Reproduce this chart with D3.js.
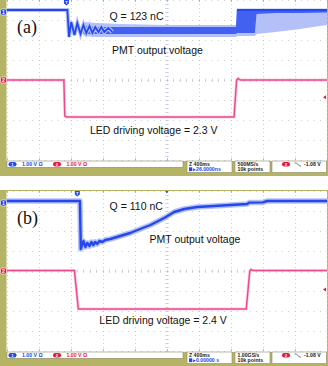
<!DOCTYPE html>
<html>
<head>
<meta charset="utf-8">
<script src="https://cdn.jsdelivr.net/npm/d3@7"></script>
<style>
body { margin: 0; background: #fff; }
svg { display: block; }
.lbl { font-family: "Liberation Sans", Arial, sans-serif; font-size: 10.5px; fill: #111; }
.tag { font-family: "Liberation Serif", "Times New Roman", serif; font-size: 18px; fill: #111; }
.st { font-family: "Liberation Sans", Arial, sans-serif; font-size: 5.2px; font-weight: bold; }
</style>
</head>
<body>
<div id="chart"></div>
<script>
/* SET UP */

const w = 328;
const h = 366;
const plotL = 6.5;
const plotR = 327;
const plotH = 160;
const panelTop = [0, 191];
const frameTop = [0, 190];
const frameBottom = [176, 366];

const olive = "#b5b464";
const blue = "#2447ee";
const blueMid = "#3d5cf0";
const blueLight = "#b4c1f9";
const pink = "#ee4a8e";
const red = "#e8173f";

/* DATA (time and voltage in screen divisions, 0 = screen centre) */

const panelTags = ["(a)", "(b)"];
const chargeLabels = ["Q = 123 nC", "Q = 110 nC"];
const pmtLabel = "PMT output voltage";
const ledLabels = ["LED driving voltage = 2.3 V", "LED driving voltage = 2.4 V"];
const chScale = "1.00 V \u03A9";
const zoomLabel = "Z 400ms";
const delayLabels = ["26.0000ns", "0.00000 s"];
const rateLabels = ["500MS/s", "1.00GS/s"];
const recordLabel = "10k points";
const trigLabel = "-1.08 V";

const trigPos = [-3.13, -2.79];
const trigLevel = [-0.86, -0.92];
const gndLevel = [3.4, 3.4];

// (a) PMT: flat level, falling edge and ringing
const pmtA_edge = [[-5, 3.5], [-3.1, 3.5], [-3.05, 2.15], [-2.98, 2.9], [-2.88, 2.25], [-2.79, 2.85],
  [-2.69, 2.3], [-2.6, 2.75], [-2.51, 2.35], [-2.41, 2.7], [-2.32, 2.35], [-2.23, 2.65],
  [-2.13, 2.4], [-2.04, 2.65], [-1.95, 2.4], [-1.82, 2.6], [-1.7, 2.4]];
// (a) PMT: persistence band (outer = faint, inner = dense)
const pmtA_bandT = [-2.6, -2.2, -1.45, -0.08, 1.04, 2.16, 2.19, 2.75, 2.8, 3.4, 4.15, 5.0];
const pmtA_outerHi = [2.9, 2.85, 2.8, 2.75, 2.75, 2.75, 3.58, 3.58, 3.58, 3.58, 3.58, 3.58];
const pmtA_outerLo = [2.2, 2.15, 2.15, 2.15, 2.15, 2.15, 2.2, 2.2, 2.3, 2.4, 2.55, 2.75];
const pmtA_innerHi = [2.7, 2.65, 2.65, 2.65, 2.65, 2.65, 3.55, 3.55, 3.55, 3.55, 3.55, 3.55];
const pmtA_innerLo = [2.3, 2.3, 2.3, 2.3, 2.3, 2.3, 2.35, 2.35, 3.3, 3.35, 3.35, 3.38];
const pmtA_tail = [[2.19, 3.5], [5, 3.5]];

// (b) PMT trace
const pmtB = [[-5, 3.5], [-2.71, 3.5], [-2.68, 1.1], [-2.6, 1.5], [-2.54, 1.2], [-2.48, 1.4],
  [-2.41, 1.25], [-2.35, 1.45], [-2.29, 1.3], [-2.23, 1.45], [-2.17, 1.35], [-2.1, 1.5],
  [-2.01, 1.45], [-1.92, 1.55], [-1.76, 1.6], [-1.45, 1.75], [-1.14, 1.9], [-0.83, 2.1],
  [-0.51, 2.3], [-0.08, 2.65], [0.23, 2.95], [0.55, 3.1], [0.95, 3.2], [1.48, 3.25],
  [1.98, 3.3], [2.51, 3.35], [2.57, 3.42], [3.0, 3.43], [3.13, 3.5], [5, 3.5]];

// LED driving pulses
const ledA = [[-5, 0], [-3.21, 0], [-3.18, -1.8], [-3.13, -1.85], [2.1, -1.85], [2.18, 0],
  [2.23, 0.08], [2.29, 0], [5, 0]];
const ledB = [[-5, 0.02], [-2.88, 0.02], [-2.76, -1.9], [2.48, -1.9], [2.59, 0],
  [2.63, 0.08], [2.69, 0.02], [5, 0.02]];

const pmtEdges = [pmtA_edge, pmtB];
const ledTraces = [ledA, ledB];

/* LAYOUT OF TEXT */
const tagXY = [[17, 32.5], [17, 224]];
const chargeXY = [[109.5, 19.5], [109.6, 209.5]];
const pmtXY = [[112, 54], [149.5, 243.3]];
const ledXY = [[90, 134.3], [99.3, 324.3]];

/* DRAW */

const svg = d3.select("#chart")
  .append("svg")
  .attr("width", w)
  .attr("height", h);

svg.append("rect").attr("width", w).attr("height", h).attr("fill", "#fff");

function drawPanel(i) {
  const top = panelTop[i];
  const x = d3.scaleLinear().domain([-5, 5]).range([plotL, plotR]);
  const y = d3.scaleLinear().domain([-4, 4]).range([top + plotH, top]);
  const g = svg.append("g");
  const px = v => Math.round(x(v)) + 0.5;
  const py = v => Math.round(y(v)) + 0.5;

  // olive frame and screen
  g.append("rect")
    .attr("x", 0).attr("y", frameTop[i])
    .attr("width", w).attr("height", frameBottom[i] - frameTop[i])
    .attr("fill", olive);
  g.append("rect")
    .attr("x", plotL).attr("y", top)
    .attr("width", plotR - plotL).attr("height", plotH + 1)
    .attr("fill", "#fff");

  // dotted graticule
  g.append("g").selectAll("line")
    .data(d3.range(-5, 6))
    .join("line")
    .attr("x1", px).attr("x2", px)
    .attr("y1", top).attr("y2", top + plotH)
    .attr("stroke", "#c4c4c4").attr("stroke-width", 0.9)
    .attr("stroke-dasharray", "0.9,3.1");
  g.append("g").selectAll("line")
    .data(d3.range(-4, 5))
    .join("line")
    .attr("x1", plotL).attr("x2", plotR)
    .attr("y1", py).attr("y2", py)
    .attr("stroke", "#c4c4c4").attr("stroke-width", 0.9)
    .attr("stroke-dasharray", "0.9,5.5");

  // centre axis ticks
  g.append("g").selectAll("line")
    .data(d3.range(-25, 26).map(d => d / 5))
    .join("line")
    .attr("x1", px).attr("x2", px)
    .attr("y1", y(0) - 1.5).attr("y2", y(0) + 2)
    .attr("stroke", "#c0c6dc").attr("stroke-width", 0.7);
  g.append("g").selectAll("line")
    .data(d3.range(-20, 21).map(d => d / 5))
    .join("line")
    .attr("x1", x(0) - 1.5).attr("x2", x(0) + 2)
    .attr("y1", py).attr("y2", py)
    .attr("stroke", "#c0c6dc").attr("stroke-width", 0.7);

  // border ticks
  g.append("g").selectAll("line")
    .data(d3.range(-5, 6))
    .join("line")
    .attr("x1", px).attr("x2", px)
    .attr("y1", top).attr("y2", top + 2)
    .attr("stroke", "#aaa").attr("stroke-width", 0.8);
  g.append("g").selectAll("line")
    .data(d3.range(-5, 6))
    .join("line")
    .attr("x1", px).attr("x2", px)
    .attr("y1", top + plotH - 2).attr("y2", top + plotH)
    .attr("stroke", "#aaa").attr("stroke-width", 0.8);

  const line = d3.line().x(d => x(d[0])).y(d => y(d[1]));

  // LED driving voltage (channel 2)
  g.append("path")
    .attr("d", line(ledTraces[i]))
    .attr("fill", "none")
    .attr("stroke", "#f7a9c9").attr("stroke-width", 3)
    .attr("stroke-opacity", 0.5);
  g.append("path")
    .attr("d", line(ledTraces[i]))
    .attr("fill", "none")
    .attr("stroke", pink).attr("stroke-width", 1.5);

  // PMT output voltage (channel 1)
  if (i === 0) {
    const idx = d3.range(pmtA_bandT.length);
    const outer = d3.area()
      .x(k => x(pmtA_bandT[k]))
      .y0(k => y(pmtA_outerLo[k]))
      .y1(k => y(pmtA_outerHi[k]));
    const inner = d3.area()
      .x(k => x(pmtA_bandT[k]))
      .y0(k => y(pmtA_innerLo[k]))
      .y1(k => y(pmtA_innerHi[k]));
    g.append("path").attr("d", outer(idx)).attr("fill", blueLight);
    g.append("path").attr("d", inner(idx)).attr("fill", blueMid).attr("fill-opacity", 0.95);
    g.append("path")
      .attr("d", line(pmtA_edge))
      .attr("fill", "none")
      .attr("stroke", blueLight).attr("stroke-width", 4);
    g.append("path")
      .attr("d", line(pmtA_edge))
      .attr("fill", "none")
      .attr("stroke", blue).attr("stroke-width", 1.8);
    g.append("path")
      .attr("d", line(pmtA_tail))
      .attr("fill", "none")
      .attr("stroke", blue).attr("stroke-width", 2.2);
  } else {
    g.append("path")
      .attr("d", line(pmtB))
      .attr("fill", "none")
      .attr("stroke", blueLight).attr("stroke-width", 5.5)
      .attr("stroke-linejoin", "round");
    g.append("path")
      .attr("d", line(pmtB))
      .attr("fill", "none")
      .attr("stroke", blue).attr("stroke-width", 2.4)
      .attr("stroke-linejoin", "round");
  }

  // texts
  g.append("text").attr("class", "tag")
    .attr("x", tagXY[i][0]).attr("y", tagXY[i][1]).text(panelTags[i]);
  g.append("text").attr("class", "lbl")
    .attr("x", chargeXY[i][0]).attr("y", chargeXY[i][1]).text(chargeLabels[i]);
  g.append("text").attr("class", "lbl")
    .attr("x", pmtXY[i][0]).attr("y", pmtXY[i][1]).text(pmtLabel);
  g.append("text").attr("class", "lbl")
    .attr("x", ledXY[i][0]).attr("y", ledXY[i][1]).text(ledLabels[i]);

  // channel ground markers on the left strip
  const marker = (yy, col, txt) => {
    g.append("rect")
      .attr("x", 0.5).attr("y", yy - 3).attr("width", 6).attr("height", 6)
      .attr("rx", 1.5).attr("fill", col).attr("stroke", "#fff").attr("stroke-width", 0.6);
    g.append("text").attr("class", "st")
      .attr("x", 3.5).attr("y", yy + 1.9).attr("text-anchor", "middle")
      .attr("fill", "#fff").text(txt);
  };
  marker(y(gndLevel[i]), blue, "1");
  marker(y(0), red, "2");

  // trigger position marker at the top
  const tx = x(trigPos[i]);
  g.append("path")
    .attr("d", `M${tx - 2.5},${top}h5v3.5l-2.5,2l-2.5,-2z`)
    .attr("fill", blue);
  g.append("text").attr("class", "st")
    .attr("x", tx).attr("y", top + 3.6).attr("text-anchor", "middle")
    .attr("fill", "#fff").style("font-size", "4px").text("T");
  if (i === 1) {
    g.append("path")
      .attr("d", `M${x(0) - 1.5},${top}h3l-1.5,2.5z`)
      .attr("fill", blue);
  }

  // trigger level marker at the right
  const ty = y(trigLevel[i]);
  g.append("path")
    .attr("d", `M${plotR - 4},${ty}l3,-2v4z`)
    .attr("fill", red);

  // status bar
  const sy = top + plotH + 1;
  const box = (bx, bw, bh) => g.append("rect")
    .attr("x", bx).attr("y", sy).attr("width", bw).attr("height", bh)
    .attr("fill", "#fff").attr("stroke", "#8c8b6a").attr("stroke-width", 0.6);
  box(7, 176, 6.3);
  box(187, 45, 11.5);
  box(235, 35, 11.5);
  box(272, 54.5, 11.5);

  const pill = (bx, col, txt) => {
    g.append("rect")
      .attr("x", bx).attr("y", sy + 1).attr("width", 8).attr("height", 4.4)
      .attr("rx", 2.2).attr("fill", col);
    g.append("text").attr("class", "st")
      .attr("x", bx + 4).attr("y", sy + 4.8).attr("text-anchor", "middle")
      .attr("fill", "#fff").style("font-size", "4.2px").text(txt);
  };
  pill(8.5, blue, "1");
  g.append("text").attr("class", "st").attr("x", 22).attr("y", sy + 5)
    .attr("fill", blue).text(chScale);
  pill(53, red, "2");
  g.append("text").attr("class", "st").attr("x", 66.5).attr("y", sy + 5)
    .attr("fill", red).text(chScale);

  g.append("text").attr("class", "st").attr("x", 189).attr("y", sy + 4.6)
    .attr("fill", "#222").text(zoomLabel);
  g.append("rect").attr("x", 189).attr("y", sy + 6.3).attr("width", 3.2).attr("height", 3.8)
    .attr("fill", blue);
  g.append("text").attr("class", "st").attr("x", 193).attr("y", sy + 10)
    .attr("fill", blue).text("\u25B8" + delayLabels[i]);

  g.append("text").attr("class", "st").attr("x", 237.5).attr("y", sy + 4.6)
    .attr("fill", "#222").text(rateLabels[i]);
  g.append("text").attr("class", "st").attr("x", 237.5).attr("y", sy + 10)
    .attr("fill", "#222").text(recordLabel);

  pill(282, red, "2");
  g.append("path")
    .attr("d", `M294.5,${sy + 2}h2l3,3h1.5`)
    .attr("fill", "none").attr("stroke", "#222").attr("stroke-width", 0.6);
  g.append("text").attr("class", "st").attr("x", 304).attr("y", sy + 5)
    .attr("fill", "#222").text(trigLabel);
}

drawPanel(0);
drawPanel(1);
</script>
</body>
</html>
